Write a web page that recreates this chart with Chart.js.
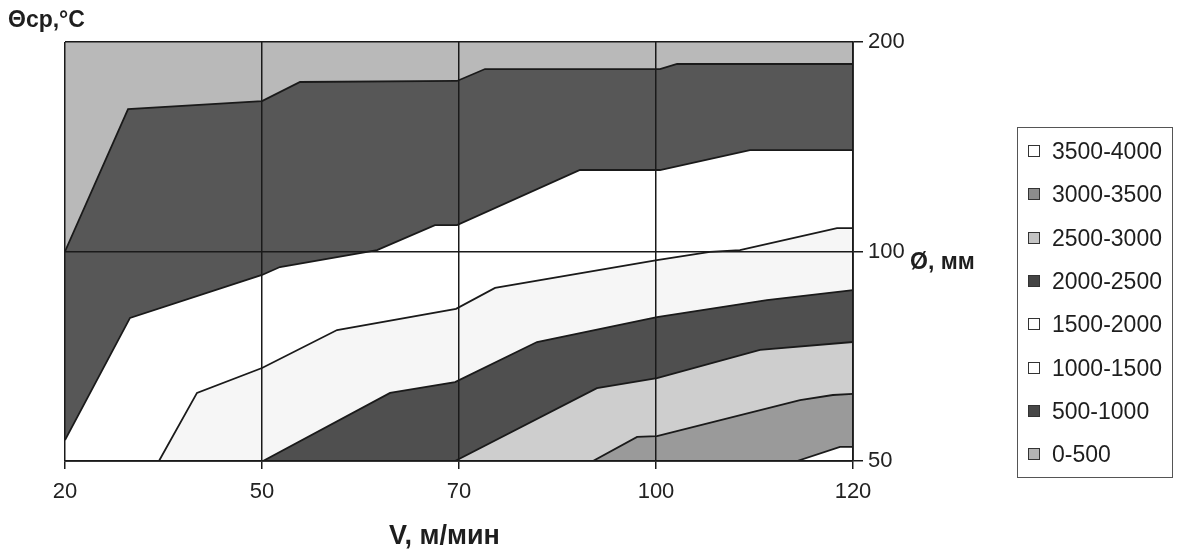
<!DOCTYPE html>
<html><head><meta charset="utf-8">
<script src="https://cdn.jsdelivr.net/npm/chart.js"></script>
<style>
html,body{margin:0;padding:0;background:#fff;}
#wrap{position:relative;width:1179px;height:555px;overflow:hidden;font-family:"Liberation Sans",Arial,sans-serif;color:#1e1e1e;background:#fff;}
canvas{position:absolute;left:0;top:0;}
.lbl{position:absolute;font-weight:bold;white-space:nowrap;line-height:1;color:#1e1e1e;}
#legend{position:absolute;left:1017px;top:127px;width:156px;height:351px;border:1px solid #555;box-sizing:border-box;}
.item{position:absolute;left:0;height:30px;line-height:30px;font-size:23px;white-space:nowrap;}
.sw{position:absolute;left:10px;top:9px;width:12px;height:12px;border:1px solid #333;box-sizing:border-box;}
.tx{position:absolute;left:34px;top:0;}
</style></head><body>
<div id="wrap">
<canvas id="c" width="1179" height="555"></canvas>
<div class="lbl" style="left:8px;top:8px;font-size:23px;">Θср,°С</div>
<div class="lbl" style="left:910px;top:250px;font-size:23px;">Ø, мм</div>
<div class="lbl" style="left:389px;top:522px;font-size:27px;">V, м/мин</div>
<div id="legend"></div>
</div>
<script>
// axis categories
const speedLabels = ['20', '50', '70', '100', '120'];      // V, м/мин (category positions 0..4)
const diamLabels = ['50', '100', '200'];                   // Ø, мм (category positions 0..2)
const bandLabels = ['0-500', '500-1000', '1000-1500', '1500-2000', '2000-2500', '2500-3000', '3000-3500', '3500-4000'];
const bandColors = ['#b9b9b9', '#575757', '#ffffff', '#f6f6f6', '#4f4f4f', '#cecece', '#9a9a9a', '#ffffff'];
const swatchColors = ['#b3b3b3', '#474747', '#ffffff', '#ffffff', '#444444', '#c4c4c4', '#8c8c8c', '#ffffff'];

// contour boundaries, [V position, Ø position]
const edgeTop  = [[0, 2], [4, 2]];
const edge500  = [[0, 1.0], [0.32, 1.68], [1, 1.718], [1.193, 1.809], [1.99, 1.814], [2.132, 1.871], [3.02, 1.871], [3.107, 1.895], [4, 1.895]];
const edge1000 = [[0, 0.10], [0.33, 0.683], [1, 0.888], [1.091, 0.926], [1.584, 1.007], [1.878, 1.126], [1.99, 1.126], [2.614, 1.389], [3.02, 1.389], [3.477, 1.484], [4, 1.484]];
const edge1500 = [[0.477, 0], [0.67, 0.325], [1, 0.444], [1.381, 0.625], [1.985, 0.726], [2.183, 0.826], [3.005, 0.959], [3.274, 0.998], [3.426, 1.007], [3.919, 1.112], [4, 1.112]];
const edge2000 = [[1.005, 0], [1.65, 0.325], [1.98, 0.377], [2.396, 0.568], [3.005, 0.687], [3.563, 0.768], [4, 0.816]];
const edge2500 = [[1.98, 0], [2.70, 0.348], [3.005, 0.396], [3.528, 0.53], [4, 0.568]];
const edge3000 = [[2.68, 0], [2.904, 0.115], [3.005, 0.119], [3.731, 0.291], [3.898, 0.315], [4, 0.32]];
const edge3500 = [[3.716, 0], [3.934, 0.067], [4, 0.067]];

const edges = [edgeTop, edge500, edge1000, edge1500, edge2000, edge2500, edge3000, edge3500];

const FONT = '"Liberation Sans", Arial, sans-serif';
const datasets = edges.map((pts, i) => ({
  label: bandLabels[i],
  data: pts.map(p => ({x: p[0], y: p[1]})),
  showLine: true,
  fill: 'start',
  backgroundColor: bandColors[i],
  borderColor: i === 0 ? 'rgba(0,0,0,0)' : '#1a1a1a',
  borderWidth: i === 0 ? 0 : 1.8,
  pointRadius: 0,
  pointHoverRadius: 0,
  tension: 0,
  order: 20 - i
}));

new Chart(document.getElementById('c'), {
  type: 'scatter',
  data: {datasets},
  options: {
    responsive: false,
    animation: false,
    events: [],
    layout: {padding: {left: 65, top: 42, right: 0, bottom: 0}},
    plugins: {legend: {display: false}, tooltip: {enabled: false}, title: {display: false}},
    scales: {
      x: {
        type: 'linear', min: 0, max: 4, position: 'bottom',
        ticks: {stepSize: 1, autoSkip: false, maxRotation: 0, padding: 10, color: '#222', z: 2,
          font: {family: FONT, size: 22},
          callback: v => speedLabels[v] ?? ''},
        grid: {color: '#1a1a1a', lineWidth: 1.5, tickLength: 8, drawTicks: true, z: 1},
        border: {display: true, color: '#1a1a1a', width: 1.8, z: 2},
        afterFit: s => { s.height = 94; }
      },
      y: {
        type: 'linear', min: 0, max: 2, position: 'right',
        ticks: {stepSize: 1, autoSkip: false, padding: 5, color: '#222', z: 2,
          font: {family: FONT, size: 22},
          callback: v => diamLabels[v] ?? ''},
        grid: {color: '#1a1a1a', lineWidth: 1.5, tickLength: 10, drawTicks: true, z: 1},
        border: {display: true, color: '#1a1a1a', width: 1.8, z: 2},
        afterFit: s => { s.width = 326; }
      }
    }
  }
});

// legend (highest band on top)
const leg = document.getElementById('legend');
for (let k = 0; k < bandLabels.length; k++) {
  const i = bandLabels.length - 1 - k;
  const it = document.createElement('div');
  it.className = 'item';
  it.style.top = (8 + 43.3 * k) + 'px';
  it.innerHTML = '<span class="sw" style="background:' + swatchColors[i] + '"></span><span class="tx">' + bandLabels[i] + '</span>';
  leg.appendChild(it);
}
</script>
</body></html>
